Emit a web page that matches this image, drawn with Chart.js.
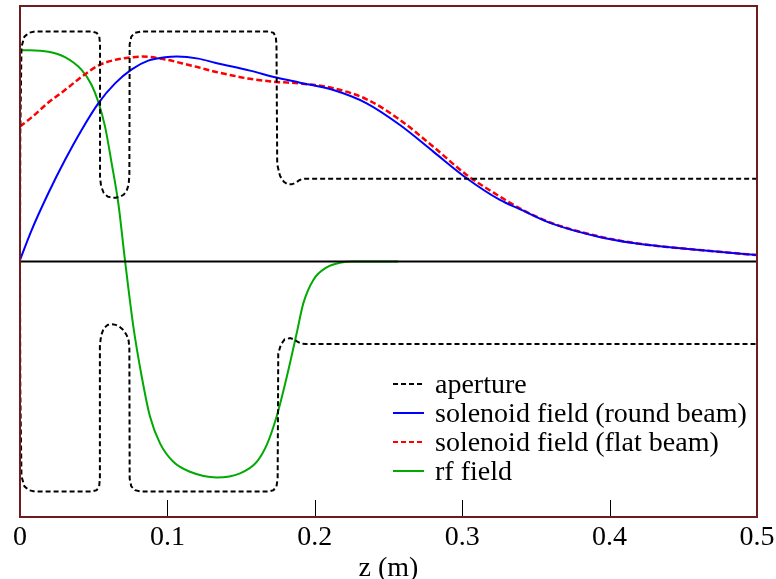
<!DOCTYPE html>
<html>
<head>
<meta charset="utf-8">
<script src="https://cdn.jsdelivr.net/npm/chart.js@4.4.1/dist/chart.umd.min.js"></script>
<style>
  body { margin: 0; background: #fff; }
  #wrap { position: relative; width: 776px; height: 579px; }
  #legend {
    position: absolute; left: 393px; top: 369px;
    font-family: "Liberation Serif", "Times New Roman", serif;
    font-size: 28px; color: #000;
  }
  #legend .row { display: flex; align-items: center; height: 29px; white-space: nowrap; }
  #legend svg { width: 31px; height: 4px; margin-right: 11px; }
</style>
</head>
<body>
<div id="wrap">
  <canvas id="chart"></canvas>
  <div id="legend"></div>
</div>
<script>
// z positions (m) and normalised field / aperture values
const apertureTopZ = [0, 0.0002, 0.001, 0.003, 0.006, 0.010, 0.049, 0.052, 0.0538, 0.0543, 0.0543, 0.0550, 0.0568, 0.0595, 0.0625, 0.0650, 0.0675, 0.0705, 0.0725, 0.0737, 0.0742, 0.0744, 0.0755, 0.0780, 0.0820, 0.1690, 0.1720, 0.1735, 0.1740, 0.1745, 0.1764, 0.1790, 0.1815, 0.1843, 0.1870, 0.1895, 0.1915, 0.1940, 0.5];
const apertureTop = [0, 0.50, 0.84, 0.88, 0.895, 0.90, 0.90, 0.895, 0.88, 0.85, 0.33, 0.295, 0.268, 0.254, 0.250, 0.250, 0.253, 0.262, 0.28, 0.30, 0.34, 0.85, 0.88, 0.895, 0.90, 0.90, 0.895, 0.88, 0.85, 0.38, 0.335, 0.312, 0.303, 0.302, 0.308, 0.318, 0.323, 0.324, 0.324];

const apertureBottomZ = [0, 0.0002, 0.001, 0.003, 0.006, 0.010, 0.049, 0.052, 0.0537, 0.0542, 0.0542, 0.0550, 0.0568, 0.0595, 0.0625, 0.0650, 0.0675, 0.0705, 0.0725, 0.0737, 0.0742, 0.0744, 0.0755, 0.0780, 0.0820, 0.1690, 0.1720, 0.1740, 0.1748, 0.1752, 0.1770, 0.1795, 0.1832, 0.1860, 0.1885, 0.1910, 0.1940, 0.5];
const apertureBottom = [0, -0.50, -0.84, -0.88, -0.895, -0.90, -0.90, -0.895, -0.88, -0.85, -0.33, -0.29, -0.262, -0.248, -0.246, -0.248, -0.255, -0.27, -0.29, -0.31, -0.34, -0.85, -0.88, -0.895, -0.90, -0.90, -0.895, -0.88, -0.85, -0.36, -0.325, -0.305, -0.300, -0.305, -0.315, -0.322, -0.323, -0.323];

const solenoidZ = [0, 0.0079, 0.0192, 0.0305, 0.0418, 0.0531, 0.0645, 0.0758, 0.087, 0.0984, 0.1065, 0.121, 0.1323, 0.156, 0.174, 0.190, 0.2126, 0.2352, 0.2578, 0.2804, 0.303, 0.3256, 0.339, 0.360, 0.393, 0.416, 0.439, 0.461, 0.5];
const solenoidRound = [0.006, 0.123, 0.267, 0.397, 0.515, 0.619, 0.697, 0.752, 0.786, 0.799, 0.802, 0.794, 0.778, 0.747, 0.72, 0.70, 0.671, 0.619, 0.534, 0.43, 0.326, 0.241, 0.205, 0.15, 0.096, 0.072, 0.057, 0.045, 0.025];

const flatZ = [0, 0.0079, 0.0192, 0.0305, 0.0418, 0.0531, 0.0645, 0.0758, 0.083, 0.0984, 0.1097, 0.121, 0.1323, 0.145, 0.156, 0.174, 0.190, 0.2126, 0.2352, 0.2578, 0.2804, 0.303, 0.3256, 0.339, 0.360, 0.393, 0.416, 0.439, 0.461, 0.5];
const solenoidFlat = [0.528, 0.564, 0.622, 0.671, 0.723, 0.767, 0.789, 0.799, 0.802, 0.791, 0.776, 0.76, 0.743, 0.727, 0.715, 0.703, 0.697, 0.678, 0.635, 0.554, 0.449, 0.339, 0.254, 0.208, 0.152, 0.098, 0.073, 0.057, 0.045, 0.025];

const rfZ = [0, 0.0192, 0.0305, 0.0418, 0.0486, 0.0531, 0.0577, 0.0622, 0.0667, 0.0712, 0.0769, 0.0826, 0.0882, 0.095, 0.104, 0.1153, 0.1334, 0.1493, 0.1606, 0.1674, 0.1741, 0.181, 0.1877, 0.1922, 0.199, 0.2081, 0.217, 0.226, 0.2565];
const rfField = [0.828, 0.821, 0.80, 0.75, 0.691, 0.625, 0.528, 0.384, 0.228, 0.006, -0.255, -0.451, -0.607, -0.712, -0.784, -0.823, -0.845, -0.829, -0.784, -0.718, -0.607, -0.451, -0.281, -0.164, -0.072, -0.023, -0.005, 0, 0];

const axisZ = [0, 0.5];
const axisLine = [0, 0];

const xTicks = [0, 0.1, 0.2, 0.3, 0.4, 0.5];

const pts = (zs, vs) => zs.map((z, i) => ({ x: z, y: vs[i] }));

const FONT = "'Liberation Serif', 'Times New Roman', serif";
const FRAME = "#6e1c1c";

// maroon frame plus inward x ticks
const framePlugin = {
    id: "frame",
    afterDraw(chart) {
        const { ctx, chartArea: a, scales } = chart;
        ctx.save();
        ctx.strokeStyle = "#000";
        ctx.lineWidth = 1;
        xTicks.forEach(t => {
            const px = Math.round(scales.x.getPixelForValue(t)) + 0.5;
            ctx.beginPath();
            ctx.moveTo(px, a.bottom);
            ctx.lineTo(px, a.bottom - 17);
            ctx.stroke();
        });
        ctx.strokeStyle = FRAME;
        ctx.lineWidth = 2;
        ctx.strokeRect(a.left, a.top, a.right - a.left, a.bottom - a.top);
        ctx.restore();
    }
};

const chart = new Chart(document.getElementById("chart"), {
    type: "line",
    data: {
        datasets: [
            { label: "axis", data: pts(axisZ, axisLine), borderColor: "#000", borderWidth: 2, legend: false },
            { label: "aperture", data: pts(apertureTopZ, apertureTop), borderColor: "#000", borderWidth: 2, borderDash: [5, 3] },
            { label: "aperture", data: pts(apertureBottomZ, apertureBottom), borderColor: "#000", borderWidth: 2, borderDash: [5, 3], legend: false },
            { label: "solenoid field (round beam)", data: pts(solenoidZ, solenoidRound), borderColor: "#0000ff", borderWidth: 2, cubicInterpolationMode: "monotone" },
            { label: "solenoid field (flat beam)", data: pts(flatZ, solenoidFlat), borderColor: "#ff0000", borderWidth: 2.5, borderDash: [6, 3], cubicInterpolationMode: "monotone" },
            { label: "rf field", data: pts(rfZ, rfField), borderColor: "#00aa00", borderWidth: 2, cubicInterpolationMode: "monotone" }
        ]
    },
    options: {
        responsive: true,
        maintainAspectRatio: false,
        animation: false,
        elements: { point: { radius: 0 } },
        layout: { padding: { left: 20, right: 19, top: 6, bottom: 0 } },
        plugins: { legend: { display: false }, tooltip: { enabled: false } },
        scales: {
            x: {
                type: "linear",
                min: 0,
                max: 0.5,
                afterBuildTicks: s => { s.ticks = xTicks.map(v => ({ value: v })); },
                ticks: {
                    color: "#000",
                    font: { family: FONT, size: 28 },
                    padding: -4,
                    maxRotation: 0,
                    callback: v => String(v)
                },
                grid: { display: false },
                border: { display: false },
                title: {
                    display: true,
                    text: "z (m)",
                    color: "#000",
                    font: { family: FONT, size: 28 },
                    padding: { top: 0, bottom: -6 }
                },
                afterFit: s => { s.height = 62; }
            },
            y: {
                display: false,
                min: -1,
                max: 1
            }
        }
    },
    plugins: [framePlugin]
});

// html legend from the datasets
const legend = document.getElementById("legend");
chart.data.datasets.filter(d => d.legend !== false).forEach(d => {
    const row = document.createElement("div");
    row.className = "row";
    const dash = d.borderDash ? `stroke-dasharray="5 3"` : "";
    row.innerHTML = `<svg viewBox="0 0 31 4"><line x1="0" y1="2" x2="31" y2="2" stroke="${d.borderColor}" stroke-width="2" ${dash}/></svg><span>${d.label}</span>`;
    legend.appendChild(row);
});
</script>
</body>
</html>
